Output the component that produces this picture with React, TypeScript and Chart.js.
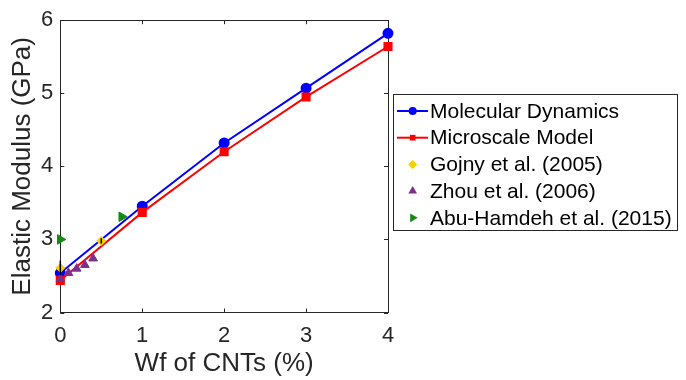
import React, { useEffect, useRef } from "react";
import { Chart, registerables } from "chart.js";

Chart.register(...registerables);

// CNT weight fraction (%) and elastic modulus (GPa)
const modelWf = [0, 1, 2, 3, 4];
const molecularDynamics = [2.54, 3.455, 4.32, 5.07, 5.82];
const microscaleModel = [2.44, 3.37, 4.2, 4.95, 5.64];

const gojnyWf = [0, 0.5];
const gojnyModulus = [2.61, 2.98];
const gojnyError = [0.1, 0.035];

const zhouWf = [0, 0.1, 0.2, 0.3, 0.4];
const zhouModulus = [2.46, 2.54, 2.6, 2.65, 2.74];

const abuHamdehWf = [0, 0.75];
const abuHamdehModulus = [3.0, 3.31];

const xTicks = [0, 1, 2, 3, 4];
const yTicks = [2, 3, 4, 5, 6];

const FONT = "'Liberation Sans', Arial, sans-serif";
const AXIS_COLOR = "#262626";

const toPoints = (xs: number[], ys: number[]) => xs.map((x, i) => ({ x, y: ys[i] }));

function drawMarker(ctx: CanvasRenderingContext2D, style: string, x: number, y: number, r: number, rotation: number) {
  ctx.save();
  ctx.translate(x, y);
  ctx.rotate((rotation * Math.PI) / 180);
  ctx.beginPath();
  if (style === "circle") {
    ctx.arc(0, 0, r, 0, Math.PI * 2);
  } else if (style === "rect") {
    const s = Math.SQRT1_2 * r;
    ctx.rect(-s, -s, 2 * s, 2 * s);
  } else if (style === "rectRot") {
    const s = Math.SQRT1_2 * r;
    ctx.rotate(Math.PI / 4);
    ctx.rect(-s, -s, 2 * s, 2 * s);
  } else if (style === "triangle") {
    ctx.moveTo(0, -r);
    ctx.lineTo(r * Math.sin(Math.PI / 3), r * 0.5);
    ctx.lineTo(-r * Math.sin(Math.PI / 3), r * 0.5);
    ctx.closePath();
  }
  ctx.fill();
  ctx.restore();
}

// Full box around the plot with inward-pointing ticks
const boxPlugin = {
  id: "boxTicks",
  beforeDatasetsDraw(chart: any) {
    const { ctx, chartArea: a, scales } = chart;
    const len = 4;
    ctx.save();
    ctx.strokeStyle = AXIS_COLOR;
    ctx.lineWidth = 1;
    ctx.strokeRect(Math.round(a.left) + 0.5, Math.round(a.top) + 0.5, Math.round(a.right - a.left), Math.round(a.bottom - a.top));
    ctx.beginPath();
    xTicks.forEach((v) => {
      const px = Math.round(scales.x.getPixelForValue(v)) + 0.5;
      ctx.moveTo(px, a.bottom);
      ctx.lineTo(px, a.bottom - len);
      ctx.moveTo(px, a.top);
      ctx.lineTo(px, a.top + len);
    });
    yTicks.forEach((v) => {
      const py = Math.round(scales.y.getPixelForValue(v)) + 0.5;
      ctx.moveTo(a.left, py);
      ctx.lineTo(a.left + len, py);
      ctx.moveTo(a.right, py);
      ctx.lineTo(a.right - len, py);
    });
    ctx.stroke();
    ctx.restore();
  },
};

// Vertical error bars for the Gojny et al. data
const errorBarPlugin = {
  id: "errorBars",
  afterDatasetDraw(chart: any, args: any) {
    const ds = chart.data.datasets[args.index];
    if (!ds.errors) return;
    const { ctx, scales } = chart;
    ctx.save();
    ctx.strokeStyle = "#000";
    ctx.lineWidth = 1.5;
    ctx.beginPath();
    ds.data.forEach((p: any, i: number) => {
      const px = scales.x.getPixelForValue(p.x);
      ctx.moveTo(px, scales.y.getPixelForValue(p.y - ds.errors[i]));
      ctx.lineTo(px, scales.y.getPixelForValue(p.y + ds.errors[i]));
    });
    ctx.stroke();
    ctx.restore();
  },
};

// Boxed legend with line + marker samples
const legendPlugin = {
  id: "boxLegend",
  afterDraw(chart: any) {
    const { ctx } = chart;
    const left = 393.5;
    const top = 94.5;
    const width = 284;
    const height = 136;
    const rowTop = 111;
    const rowStep = 26.7;
    ctx.save();
    ctx.fillStyle = "#fff";
    ctx.fillRect(left, top, width, height);
    ctx.strokeStyle = AXIS_COLOR;
    ctx.lineWidth = 1;
    ctx.strokeRect(left, top, width, height);
    ctx.font = `21px ${FONT}`;
    ctx.textBaseline = "middle";
    ctx.textAlign = "left";
    chart.data.datasets.forEach((ds: any, i: number) => {
      const y = rowTop + i * rowStep;
      if (ds.showLine !== false) {
        ctx.strokeStyle = ds.borderColor;
        ctx.lineWidth = 2;
        ctx.beginPath();
        ctx.moveTo(397, y);
        ctx.lineTo(428, y);
        ctx.stroke();
      }
      ctx.fillStyle = ds.pointBackgroundColor;
      drawMarker(ctx, ds.pointStyle, 412.7, y, ds.legendRadius, ds.pointRotation || 0);
      ctx.fillStyle = "#000";
      ctx.fillText(ds.label, 430, y + 1);
    });
    ctx.restore();
  },
};

export default function App() {
  const canvasRef = useRef<HTMLCanvasElement | null>(null);

  useEffect(() => {
    if (!canvasRef.current) return;
    Chart.defaults.font.family = FONT;
    const chart = new Chart(canvasRef.current, {
      type: "scatter",
      data: {
        datasets: [
          {
            label: "Molecular Dynamics",
            data: toPoints(modelWf, molecularDynamics),
            showLine: true,
            clip: false,
            borderColor: "#0000ff",
            backgroundColor: "#0000ff",
            pointBackgroundColor: "#0000ff",
            pointBorderColor: "#0000ff",
            borderWidth: 2,
            pointStyle: "circle",
            pointRadius: 4.5,
            legendRadius: 4,
            order: 5,
          } as any,
          {
            label: "Microscale Model",
            data: toPoints(modelWf, microscaleModel),
            showLine: true,
            clip: false,
            borderColor: "#ff0000",
            backgroundColor: "#ff0000",
            pointBackgroundColor: "#ff0000",
            pointBorderColor: "#ff0000",
            borderWidth: 2,
            pointStyle: "rect",
            pointRadius: 5,
            legendRadius: 4,
            order: 4,
          } as any,
          {
            label: "Gojny et al. (2005)",
            data: toPoints(gojnyWf, gojnyModulus),
            errors: gojnyError,
            showLine: false,
            clip: false,
            borderColor: "#f5cf00",
            backgroundColor: "#f5cf00",
            pointBackgroundColor: "#f5cf00",
            pointBorderColor: "#f5cf00",
            pointBorderWidth: 1,
            pointStyle: "rectRot",
            pointRadius: 4.5,
            legendRadius: 4.5,
            order: 1,
          } as any,
          {
            label: "Zhou et al. (2006)",
            data: toPoints(zhouWf, zhouModulus),
            showLine: false,
            clip: false,
            borderColor: "#7e2f8e",
            backgroundColor: "#7e2f8e",
            pointBackgroundColor: "#7e2f8e",
            pointBorderColor: "#7e2f8e",
            pointBorderWidth: 1,
            pointStyle: "triangle",
            pointRadius: 5,
            legendRadius: 5,
            order: 2,
          } as any,
          {
            label: "Abu-Hamdeh et al. (2015)",
            data: toPoints(abuHamdehWf, abuHamdehModulus),
            showLine: false,
            clip: false,
            borderColor: "#138a13",
            backgroundColor: "#138a13",
            pointBackgroundColor: "#138a13",
            pointBorderColor: "#138a13",
            pointBorderWidth: 1,
            pointStyle: "triangle",
            pointRotation: 90,
            pointRadius: 5.5,
            legendRadius: 5,
            order: 3,
          } as any,
        ],
      },
      options: {
        responsive: false,
        animation: false,
        devicePixelRatio: 1,
        layout: { padding: { top: 19, right: 298, bottom: 0, left: 0 } },
        plugins: { legend: { display: false }, tooltip: { enabled: false } },
        scales: {
          x: {
            type: "linear",
            min: 0,
            max: 4,
            afterBuildTicks: (s: any) => {
              s.ticks = xTicks.map((v) => ({ value: v }));
            },
            afterFit: (s: any) => {
              s.height = 67.5;
            },
            grid: { display: false, drawTicks: false },
            border: { display: false },
            ticks: { color: AXIS_COLOR, font: { size: 22 }, padding: 10, maxRotation: 0 },
            title: {
              display: true,
              text: "Wf of CNTs (%)",
              color: AXIS_COLOR,
              font: { size: 26 },
              padding: { top: 0, bottom: 1 },
            },
          },
          y: {
            type: "linear",
            min: 2,
            max: 6,
            afterBuildTicks: (s: any) => {
              s.ticks = yTicks.map((v) => ({ value: v }));
            },
            afterFit: (s: any) => {
              s.width = 60.3;
            },
            grid: { display: false, drawTicks: false },
            border: { display: false },
            ticks: { color: AXIS_COLOR, font: { size: 22 }, padding: 7 },
            title: {
              display: true,
              text: "Elastic Modulus (GPa)",
              color: AXIS_COLOR,
              font: { size: 26 },
              padding: { top: 7, bottom: 0 },
            },
          },
        },
      } as any,
      plugins: [errorBarPlugin, boxPlugin, legendPlugin],
    });
    return () => chart.destroy();
  }, []);

  return (
    <div style={{ position: "fixed", left: 0, top: 0, width: 686, height: 380, background: "#fff" }}>
      <canvas ref={canvasRef} width={686} height={380} />
    </div>
  );
}
